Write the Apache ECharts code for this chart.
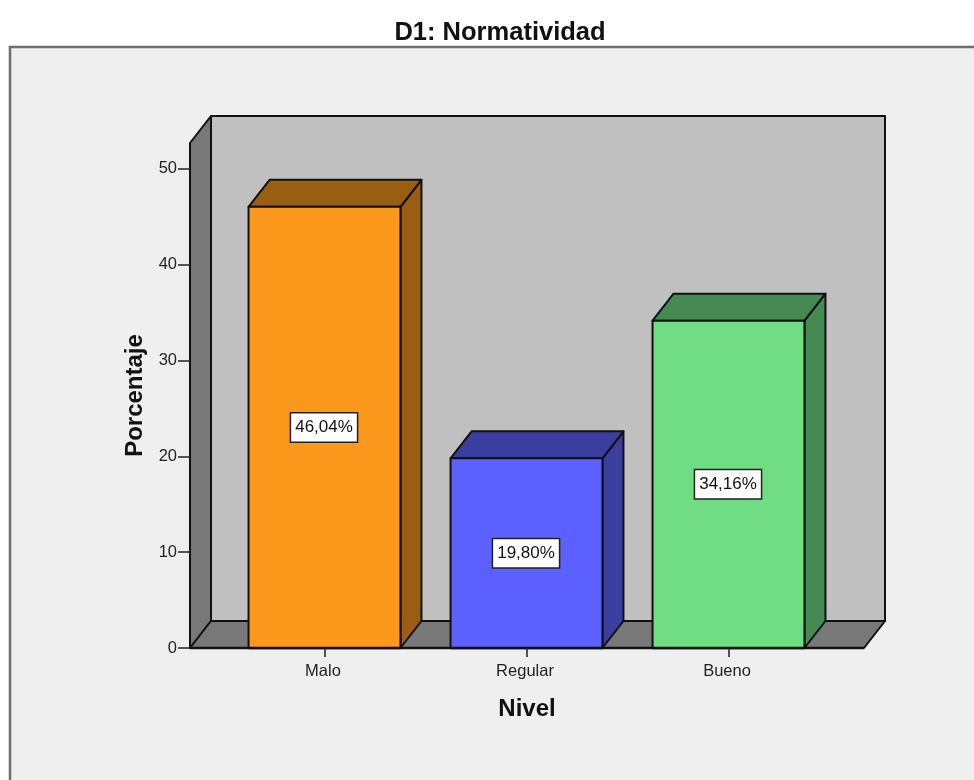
<!DOCTYPE html>
<html>
<head>
<meta charset="utf-8">
<style>html,body{margin:0;padding:0;background:#fff}#c{width:974px;height:780px}</style>
<script src="https://cdn.jsdelivr.net/npm/echarts@6/dist/echarts.min.js"></script>
</head>
<body>
<div id="c"></div>
<script>
const categories = ['Malo', 'Regular', 'Bueno'];
const values = [46.04, 19.80, 34.16];
const yTicks = [0, 10, 20, 30, 40, 50];
const yAxisTop = 52.7;
const chartTitle = 'D1: Normatividad';
const xAxisName = 'Nivel';
const yAxisName = 'Porcentaje';

const faceColors = ['#FC991C', '#5C60FF', '#70DC84'];
const sideColors = ['#9A5E12', '#3A3E9E', '#448A52'];
const DX = 21, DY = -27, AXIS_PAD = 34, BAR_RATIO = 0.752;
const FONT = '"Liberation Sans", Arial, sans-serif';
const EDGE = '#111';

const chart = echarts.init(document.getElementById('c'), null, {renderer: 'canvas'});

function poly(points, fill, lw) {
  return {type: 'polygon', shape: {points},
    style: {fill, stroke: EDGE, lineWidth: lw || 2, lineJoin: 'round'}};
}

function renderWalls(params, api) {
  const g = params.coordSys;
  const l = g.x - AXIS_PAD, r = g.x + g.width + AXIS_PAD;
  const b = api.coord([0, 0])[1], top = api.coord([0, yAxisTop])[1];
  return {type: 'group', children: [
    poly([[l + DX, b + DY], [r + DX, b + DY], [r + DX, top + DY], [l + DX, top + DY]], '#C0C0C0'),
    poly([[l, b], [l + DX, b + DY], [l + DX, top + DY], [l, top]], '#787878'),
    poly([[l, b], [r, b], [r + DX, b + DY], [l + DX, b + DY]], '#787878'),
    {type: 'line', shape: {x1: l, y1: b, x2: r, y2: b}, style: {stroke: EDGE, lineWidth: 2.5}}
  ]};
}

function renderBar(params, api) {
  const idx = api.value(0), val = api.value(1);
  const c = api.coord([idx, val]), base = api.coord([idx, 0]);
  const w = api.size([1, 0])[0] * BAR_RATIO;
  const x0 = c[0] - w / 2 - 0.5, x1 = c[0] + w / 2 - 0.5, yt = c[1], yb = base[1];
  const label = val.toFixed(2).replace('.', ',') + '%';
  const mid = api.coord([idx, val / 2]);
  return {type: 'group', children: [
    poly([[x1, yb], [x1 + DX, yb + DY], [x1 + DX, yt + DY], [x1, yt]], sideColors[idx]),
    poly([[x0, yt], [x1, yt], [x1 + DX, yt + DY], [x0 + DX, yt + DY]], sideColors[idx]),
    poly([[x0, yb], [x1, yb], [x1, yt], [x0, yt]], faceColors[idx]),
    {type: 'line', shape: {x1: x0, y1: yb, x2: x1, y2: yb}, style: {stroke: EDGE, lineWidth: 2.5}},
    {type: 'text', x: mid[0] - 1, y: mid[1], z2: 5, style: {
      text: label, fill: '#111', font: '17px ' + FONT, align: 'center', verticalAlign: 'middle',
      backgroundColor: '#fff', borderColor: '#222', borderWidth: 1.5, padding: [6, 4, 5, 4]
    }}
  ]};
}

chart.setOption({
  animation: false,
  backgroundColor: '#ffffff',
  title: {text: chartTitle, left: 495, top: 13, textAlign: 'center',
    textStyle: {fontFamily: FONT, fontWeight: 'bold', fontSize: 25.5, color: '#111', lineHeight: 30}},
  graphic: [{type: 'rect', z: -10, silent: true,
    shape: {x: 10, y: 47, width: 975, height: 745},
    style: {fill: '#EFEFEF', stroke: '#6e6e6e', lineWidth: 2.5}}],
  grid: {left: 224, top: 143, width: 606, height: 505, containLabel: false},
  xAxis: {type: 'category', data: categories, name: xAxisName, nameLocation: 'middle', nameGap: 49,
    nameTextStyle: {fontFamily: FONT, fontWeight: 'bold', fontSize: 24, color: '#111'},
    axisLine: {show: false},
    axisTick: {show: true, alignWithLabel: true, length: 9, lineStyle: {color: '#222', width: 1.5}},
    axisLabel: {fontFamily: FONT, fontSize: 16.5, color: '#222', margin: 15, padding: [0, 4, 0, 0]},
    z: 5},
  yAxis: {type: 'value', min: 0, max: yAxisTop, interval: 10, offset: AXIS_PAD, name: yAxisName,
    nameLocation: 'middle', nameGap: 43,
    nameTextStyle: {fontFamily: FONT, fontWeight: 'bold', fontSize: 24, color: '#111'},
    axisLine: {show: false},
    axisTick: {show: true, length: 12, customValues: yTicks, lineStyle: {color: '#222', width: 1.5}},
    axisLabel: {fontFamily: FONT, fontSize: 16.5, color: '#222', margin: 13, customValues: yTicks},
    splitLine: {show: false}, z: 5},
  series: [
    {type: 'custom', coordinateSystem: 'cartesian2d', renderItem: renderWalls, data: [[0, 0]], z: 1, silent: true, clip: false},
    {type: 'custom', coordinateSystem: 'cartesian2d', renderItem: renderBar,
     encode: {x: 0, y: 1}, data: values.map((v, i) => [i, v]), z: 2, silent: true, clip: false}
  ]
});
</script>
</body>
</html>
